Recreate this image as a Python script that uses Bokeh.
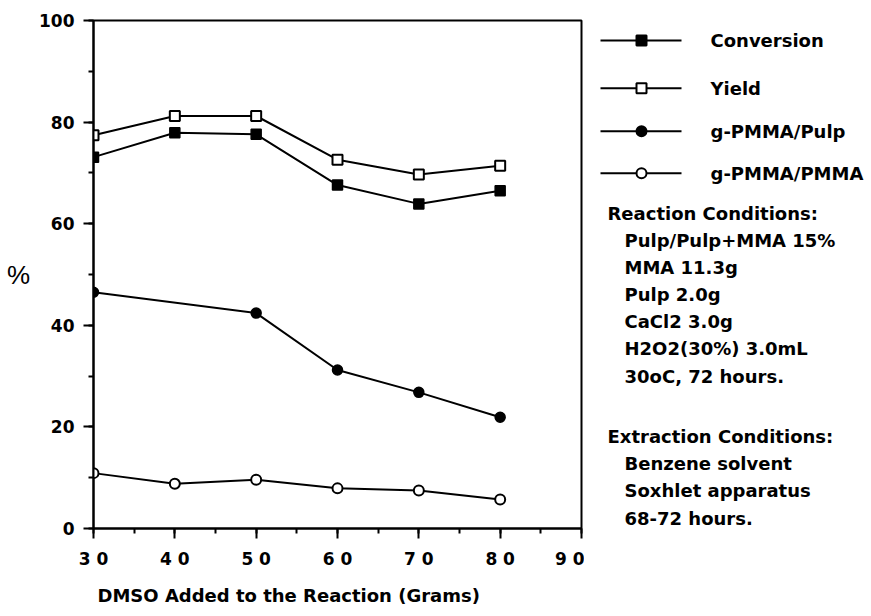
from bokeh.plotting import figure
from bokeh.layouts import row
from bokeh.models import Range1d, SingleIntervalTicker, Title
from bokeh.embed import file_html
from bokeh.resources import INLINE
from bokeh.core.properties import value

# ---- data ----
dmso = [30, 40, 50, 60, 70, 80]
conversion = [73.1, 77.9, 77.6, 67.6, 63.9, 66.5]
yield_pct = [77.4, 81.2, 81.2, 72.6, 69.7, 71.4]
pulp_dmso = [30, 50, 60, 70, 80]
graft_pulp = [46.5, 42.4, 31.2, 26.8, 21.9]
graft_pmma = [10.9, 8.8, 9.6, 7.9, 7.5, 5.7]

x_ticks = [30, 40, 50, 60, 70, 80, 90]
x_tick_labels = ["3 0", "4 0", "5 0", "6 0", "7 0", "8 0", "9 0"]
y_ticks = [0, 20, 40, 60, 80, 100]

series_names = ["Conversion", "Yield", "g-PMMA/Pulp", "g-PMMA/PMMA"]
reaction_title = "Reaction Conditions:"
reaction_lines = ["Pulp/Pulp+MMA 15%", "MMA 11.3g", "Pulp 2.0g", "CaCl2 3.0g",
                  "H2O2(30%) 3.0mL", "30oC, 72 hours."]
extraction_title = "Extraction Conditions:"
extraction_lines = ["Benzene solvent", "Soxhlet apparatus", "68-72 hours."]
x_title = "DMSO Added to the Reaction (Grams)"

FONT = "DejaVu Sans"

# ---- main plot ----
p = figure(width=584, height=616, x_range=Range1d(30, 90), y_range=Range1d(0, 100),
           output_backend="svg", toolbar_location=None,
           min_border_left=93, min_border_right=3, min_border_top=20, min_border_bottom=87)
p.grid.visible = False
p.outline_line_color = "black"
p.outline_line_width = 2
p.background_fill_color = "white"
p.border_fill_color = "white"

p.xaxis.ticker = SingleIntervalTicker(interval=10, num_minor_ticks=2)
p.xaxis.major_label_overrides = {t: l for t, l in zip(x_ticks, x_tick_labels)}
p.yaxis.ticker = SingleIntervalTicker(interval=20, num_minor_ticks=2)

for ax in (p.xaxis[0], p.yaxis[0]):
    ax.axis_line_width = 2
    ax.axis_line_color = "black"
    ax.major_tick_line_width = 2
    ax.minor_tick_line_width = 2
    ax.major_tick_in = 0
    ax.minor_tick_in = 0
    ax.major_tick_out = 10
    ax.minor_tick_out = 5
    ax.major_label_text_font = FONT
    ax.major_label_text_font_style = "bold"
    ax.major_label_text_font_size = "17px"
    ax.major_label_text_color = "black"
p.xaxis.major_label_standoff = 10
p.yaxis.major_label_standoff = 9

p.yaxis.axis_label = "%"
p.yaxis.axis_label_orientation = "horizontal"
p.yaxis.axis_label_text_font = "Liberation Sans"
p.yaxis.axis_label_text_font_style = "normal"
p.yaxis.axis_label_text_font_size = "26px"
p.yaxis.axis_label_standoff = 6
p.yaxis.axis_label_text_color = "black"

p.add_layout(Title(text=x_title, align="left", offset=4, standoff=22,
                   text_font=FONT, text_font_style="bold", text_font_size="18px",
                   text_color="black"), "below")

LW = 2
p.line(dmso, conversion, line_color="black", line_width=LW)
p.scatter(dmso, conversion, marker="square", size=10, fill_color="black", line_color="black", line_width=1.5)
p.line(dmso, yield_pct, line_color="black", line_width=LW)
p.scatter(dmso, yield_pct, marker="square", size=10, fill_color="white", line_color="black", line_width=2)
p.line(pulp_dmso, graft_pulp, line_color="black", line_width=LW)
p.scatter(pulp_dmso, graft_pulp, marker="circle", size=10, fill_color="black", line_color="black", line_width=1.5)
p.line(dmso, graft_pmma, line_color="black", line_width=LW)
p.scatter(dmso, graft_pmma, marker="circle", size=10, fill_color="white", line_color="black", line_width=2)

# ---- side panel: legend + conditions (frame aligned with main frame: 20..529 px) ----
s = figure(width=287, height=616, x_range=Range1d(584, 871), y_range=Range1d(529, 20),
           output_backend="svg", toolbar_location=None,
           x_axis_location=None, y_axis_location=None,
           min_border_left=0, min_border_right=0, min_border_top=20, min_border_bottom=87)
s.grid.visible = False
s.outline_line_color = None
s.background_fill_color = "white"
s.border_fill_color = "white"

markers = [("square", "black"), ("square", "white"), ("circle", "black"), ("circle", "white")]
leg_y = [40, 88, 131, 173]
for name, (mk, fc), ly in zip(series_names, markers, leg_y):
    s.line([600, 681], [ly, ly], line_color="black", line_width=LW)
    s.scatter([641], [ly], marker=mk, size=10, fill_color=fc, line_color="black", line_width=2)
    s.text([710], [ly], text=[name], text_font=value(FONT), text_font_style="bold",
           text_font_size="18px", text_baseline="middle", text_color="black")

line_h = 27.2
ys = [213]
txt = [reaction_title]
xs = [607]
for i, t in enumerate(reaction_lines):
    ys.append(213 + line_h * (i + 1)); txt.append(t); xs.append(624)
ey = 437
ys.append(ey); txt.append(extraction_title); xs.append(607)
for i, t in enumerate(extraction_lines):
    ys.append(ey + line_h * (i + 1)); txt.append(t); xs.append(624)
s.text(xs, ys, text=txt, text_font=value(FONT), text_font_style="bold",
       text_font_size="18px", text_baseline="middle", text_color="black")

layout = row(p, s)
open("out.html", "w").write(file_html(layout, INLINE))
